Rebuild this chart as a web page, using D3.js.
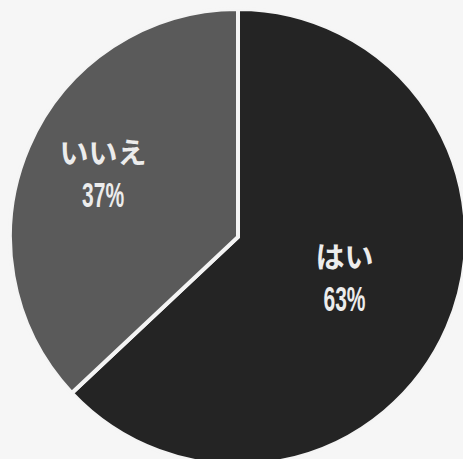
<!DOCTYPE html>
<html><head><meta charset="utf-8">
<script src="https://cdn.jsdelivr.net/npm/d3@7"></script>
<style>html,body{margin:0;padding:0;background:#f6f6f6;overflow:hidden}</style>
</head><body>
<svg id="chart" width="463" height="459"></svg>
<script>
const categories = ["はい", "いいえ"];
const values = [63, 37];
const colors = ["#242424", "#5a5a5a"];

const W = 463, H = 459, cx = 238, cy = 237, R = 228;
const labelR = [116, 147];

const svg = d3.select("#chart");
svg.append("rect").attr("width", W).attr("height", H).attr("fill", "#f6f6f6");
const g = svg.append("g").attr("transform", `translate(${cx},${cy})`);

const pie = d3.pie().sort(null).value(d => d.v);
const data = pie(categories.map((c, i) => ({c, v: values[i], i})));
const arc = d3.arc().innerRadius(0).outerRadius(R);

g.selectAll("path.slice").data(data).join("path")
  .attr("class", "slice")
  .attr("d", arc)
  .attr("fill", d => colors[d.data.i])
  .attr("stroke", "#f4f4f4")
  .attr("stroke-width", 4)
  .attr("stroke-linejoin", "miter");

g.append("circle").attr("r", R + 1).attr("fill", "none").attr("stroke", "#f6f6f6").attr("stroke-width", 2);

const lab = g.selectAll("g.lab").data(data).join("g").attr("class", "lab")
  .attr("transform", d => {
    const a = d3.arc().innerRadius(labelR[d.data.i]).outerRadius(labelR[d.data.i]);
    const [x, y] = a.centroid(d);
    return `translate(${x},${y})`;
  });
lab.append("text")
  .attr("text-anchor", "middle").attr("y", -28)
  .attr("dominant-baseline", "central")
  .attr("fill", "#ececec")
  .attr("font-family", "'Noto Sans CJK JP', sans-serif")
  .attr("font-weight", "bold")
  .attr("font-size", 29)
  .text(d => d.data.c);
lab.append("text")
  .attr("text-anchor", "middle")
  .attr("transform", "translate(0,28) scale(0.6,1)")
  .attr("fill", "#ececec")
  .attr("font-family", "'Liberation Sans', Arial, sans-serif")
  .attr("font-weight", "bold")
  .attr("font-size", 35)
  .text(d => d.data.v + "%");
</script>
</body></html>
